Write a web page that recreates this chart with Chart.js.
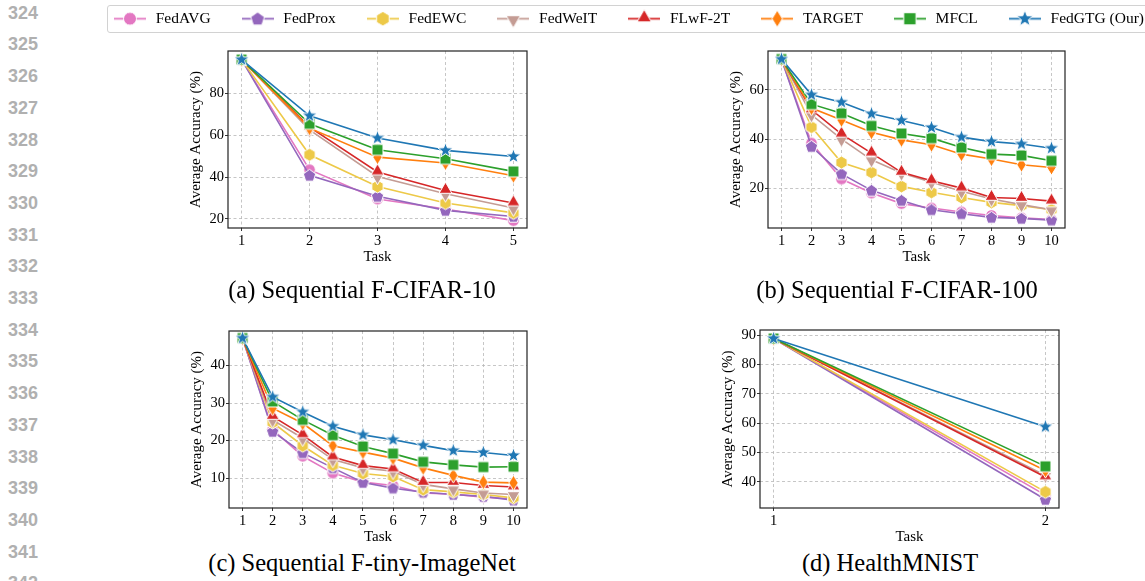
<!DOCTYPE html>
<html>
<head>
<meta charset="utf-8">
<title>Average accuracy per task</title>
<script src="https://cdn.jsdelivr.net/npm/chart.js@4.4.1/dist/chart.umd.min.js"></script>
<style>
  body { margin: 0; width: 1145px; height: 581px; overflow: hidden; background: #fff; position: relative; }
  canvas, .lineno, .caption, #legendFrame { position: absolute; }
  .lineno { left: 8px; font: bold 18px "Liberation Sans", Arial, sans-serif; color: #b0b0b0; line-height: 20px; }
  .caption { font: 24.5px "Liberation Serif", "Times New Roman", serif; color: #000; white-space: nowrap; line-height: 28px; transform: translateX(-50%); }
  #legendFrame { left: 107px; top: 5px; width: 1100px; height: 26px; border: 1px solid #d2d2d2; border-radius: 3px; }
</style>
</head>
<body>
<div id="legendFrame"></div>
<canvas id="legend"></canvas>
<canvas id="chartA"></canvas>
<canvas id="chartB"></canvas>
<canvas id="chartC"></canvas>
<canvas id="chartD"></canvas>
<div class="caption" style="left:362px; top:276px">(a) Sequential F-CIFAR-10</div>
<div class="caption" style="left:897px; top:276px">(b) Sequential F-CIFAR-100</div>
<div class="caption" style="left:362px; top:549px">(c) Sequential F-tiny-ImageNet</div>
<div class="caption" style="left:890px; top:549px">(d) HealthMNIST</div>

<script>
// methods, in legend order
const methods = ['FedAVG', 'FedProx', 'FedEWC', 'FedWeIT', 'FLwF-2T', 'TARGET', 'MFCL', 'FedGTG (Our)'];
const colors = ['#e377c2', '#9467bd', '#edc948', '#c49c94', '#d62728', '#ff7f0e', '#2ca02c', '#1f77b4'];
const shapes = ['circle', 'pentagon', 'hexagon', 'triDown', 'triUp', 'thinDiamond', 'square', 'star'];

// (a) Sequential F-CIFAR-10
const tasksA = [1, 2, 3, 4, 5];
const cifar10 = [
    [96, 43.5, 29.5, 24.8, 19.2],   // FedAVG
    [96, 40.8, 30.8, 24.1, 21.2],   // FedProx
    [96, 50.6, 35.5, 27.6, 22.9],   // FedEWC
    [96, 62.5, 40.3, 32.0, 25.2],   // FedWeIT
    [96, 63.8, 42.4, 33.6, 27.6],   // FLwF-2T
    [96, 63.3, 49.5, 46.7, 40.6],   // TARGET
    [96, 65.4, 53.0, 48.7, 42.7],   // MFCL
    [96, 69.2, 58.6, 52.7, 49.8]    // FedGTG
];
const yTicksA = [20, 40, 60, 80];

// (b) Sequential F-CIFAR-100
const tasksB = [1, 2, 3, 4, 5, 6, 7, 8, 9, 10];
const cifar100 = [
    [72.5, 38.4, 23.8, 18.1, 13.8, 12.0, 10.4, 9.0, 8.0, 7.3],
    [72.5, 37.0, 25.9, 19.2, 15.1, 11.3, 9.7, 8.2, 7.8, 7.1],
    [72.5, 44.9, 30.5, 26.5, 20.8, 18.4, 16.3, 14.3, 13.0, 11.3],
    [72.5, 49.9, 40.0, 31.6, 26.2, 22.5, 18.8, 15.7, 13.4, 11.3],
    [72.5, 51.9, 42.0, 34.3, 26.5, 23.1, 20.1, 16.3, 15.9, 14.8],
    [72.5, 52.6, 47.8, 42.8, 39.7, 37.7, 33.9, 31.9, 29.6, 28.5],
    [72.5, 54.2, 50.5, 45.4, 42.3, 40.4, 36.6, 33.9, 33.4, 31.2],
    [72.5, 58.0, 55.0, 50.3, 47.6, 44.7, 40.8, 39.0, 38.0, 36.3]
];
const yTicksB = [20, 40, 60];

// (c) Sequential F-tiny-ImageNet
const tasksC = [1, 2, 3, 4, 5, 6, 7, 8, 9, 10];
const tinyImageNet = [
    [47.3, 22.9, 15.8, 11.3, 8.9, 8.0, 6.0, 5.7, 4.9, 4.4],
    [47.3, 22.4, 16.7, 12.7, 8.8, 7.3, 6.2, 5.6, 5.1, 4.1],
    [47.3, 24.8, 18.6, 13.4, 11.2, 10.4, 6.9, 6.3, 5.6, 4.7],
    [47.3, 25.5, 20.6, 14.9, 12.7, 11.8, 8.3, 7.1, 6.0, 5.6],
    [47.3, 26.4, 21.5, 15.6, 13.3, 12.4, 8.8, 8.8, 8.0, 7.6],
    [47.3, 28.6, 24.6, 18.6, 16.9, 15.3, 12.7, 10.7, 8.9, 8.7],
    [47.3, 30.4, 25.5, 21.4, 18.4, 16.5, 14.3, 13.5, 12.9, 13.0],
    [47.3, 31.6, 27.6, 23.8, 21.5, 20.2, 18.7, 17.3, 16.8, 16.0]
];
const yTicksC = [10, 20, 30, 40];

// (d) HealthMNIST
const tasksD = [1, 2];
const healthMnist = [
    [88.9, 35.5],
    [88.9, 34.0],
    [88.9, 36.6],
    [88.9, 42.2],
    [88.9, 41.7],
    [88.9, 43.9],
    [88.9, 45.3],
    [88.9, 58.8]
];
const yTicksD = [40, 50, 60, 70, 80, 90];

// line numbers of the page margin
for (let n = 324; n <= 342; n++) {
    const d = document.createElement('div');
    d.className = 'lineno';
    d.textContent = n;
    d.style.top = (2.7 + 31.7 * (n - 324)) + 'px';
    document.body.appendChild(d);
}

Chart.defaults.font.family = '"Liberation Serif", "Times New Roman", serif';
Chart.defaults.color = '#000';

// matplotlib-like markers with a white edge
function polygon(g, x, y, n, r, start) {
    for (let k = 0; k < n; k++) {
        const a = start + k * 2 * Math.PI / n;
        if (k === 0) g.moveTo(x + r * Math.cos(a), y + r * Math.sin(a));
        else g.lineTo(x + r * Math.cos(a), y + r * Math.sin(a));
    }
}
function makeIcon(shape, color, s, lineLen) {
    const size = Math.ceil(20 * s);
    const c = document.createElement('canvas');
    c.width = lineLen || size;
    c.height = size;
    const g = c.getContext('2d');
    const x = c.width / 2, y = size / 2;
    if (lineLen) {
        g.strokeStyle = color;
        g.lineWidth = 1.8;
        g.beginPath(); g.moveTo(0, y); g.lineTo(c.width, y); g.stroke();
    }
    g.beginPath();
    if (shape === 'circle') g.arc(x, y, 5.2 * s, 0, 2 * Math.PI);
    else if (shape === 'pentagon') polygon(g, x, y + 0.4 * s, 5, 5.8 * s, -Math.PI / 2);
    else if (shape === 'hexagon') polygon(g, x, y, 6, 5.8 * s, -Math.PI / 2);
    else if (shape === 'triDown') polygon(g, x, y + 0.8 * s, 3, 6.6 * s, Math.PI / 2);
    else if (shape === 'triUp') polygon(g, x, y - 0.8 * s, 3, 6.6 * s, -Math.PI / 2);
    else if (shape === 'thinDiamond') {
        g.moveTo(x, y - 6.8 * s); g.lineTo(x + 4.2 * s, y); g.lineTo(x, y + 6.8 * s); g.lineTo(x - 4.2 * s, y);
    } else if (shape === 'square') g.rect(x - 4.9 * s, y - 4.9 * s, 9.8 * s, 9.8 * s);
    else if (shape === 'star') {
        for (let k = 0; k < 10; k++) {
            const r = (k % 2 ? 2.9 : 7.0) * s;
            const a = -Math.PI / 2 + k * Math.PI / 5;
            if (k === 0) g.moveTo(x + r * Math.cos(a), y + r * Math.sin(a));
            else g.lineTo(x + r * Math.cos(a), y + r * Math.sin(a));
        }
    }
    g.closePath();
    g.fillStyle = color;
    g.fill();
    g.strokeStyle = '#fff';
    g.lineWidth = 1;
    g.stroke();
    return c;
}

const pointIcons = shapes.map((sh, i) => makeIcon(sh, colors[i], 1.12));
const legendIcons = shapes.map((sh, i) => makeIcon(sh, colors[i], 1.25, 32));

// shared legend on top
const LP = 29;
const legendCanvas = document.getElementById('legend');
legendCanvas.width = 1150;
legendCanvas.height = 100;
legendCanvas.style.left = (112 - LP) + 'px';
legendCanvas.style.top = (19 - LP - 7.75) + 'px';
new Chart(legendCanvas, {
    type: 'line',
    data: { datasets: methods.map((m, i) => ({ label: m, data: [], borderColor: colors[i] })) },
    options: {
        responsive: false,
        animation: false,
        events: [],
        scales: { x: { display: false }, y: { display: false } },
        plugins: {
            tooltip: { enabled: false },
            legend: {
                align: 'start',
                labels: {
                    usePointStyle: true,
                    pointStyleWidth: 36,
                    padding: LP,
                    color: '#000',
                    font: { size: 15.5 },
                    generateLabels: () => methods.map((m, i) => ({
                        text: m, pointStyle: legendIcons[i], fillStyle: colors[i],
                        strokeStyle: colors[i], lineWidth: 0, hidden: false, datasetIndex: i
                    }))
                }
            }
        }
    }
});

// axes frame like matplotlib spines
const framePlugin = {
    id: 'frame',
    afterDatasetsDraw(chart) {
        const { ctx, chartArea: a } = chart;
        ctx.save();
        ctx.strokeStyle = '#222';
        ctx.lineWidth = 1.2;
        ctx.strokeRect(a.left, a.top, a.right - a.left, a.bottom - a.top);
        ctx.restore();
    }
};

const YW = 41, XH = 38, PT = 10, PR = 10;

function makeChart(id, box, tasks, values, xRange, yRange, yTicks) {
    const cv = document.getElementById(id);
    cv.width = YW + box.w + PR;
    cv.height = PT + box.h + XH;
    cv.style.left = (box.l - YW) + 'px';
    cv.style.top = (box.t - PT) + 'px';

    const grid = { color: '#b8b8b8', lineWidth: 0.8, tickLength: 3, tickColor: '#333', tickWidth: 1, tickBorderDash: [] };
    const border = { display: false, dash: [3, 2.5] };

    return new Chart(cv, {
        type: 'line',
        data: {
            datasets: methods.map((m, i) => ({
                label: m,
                data: values[i].map((v, k) => ({ x: tasks[k], y: v })),
                borderColor: colors[i],
                backgroundColor: colors[i],
                borderWidth: 1.6,
                pointStyle: pointIcons[i],
                pointRadius: 6,
                tension: 0,
                order: methods.length - i
            }))
        },
        options: {
            responsive: false,
            animation: false,
            events: [],
            layout: { padding: { top: PT, right: PR, left: 0, bottom: 0 } },
            plugins: { legend: { display: false }, tooltip: { enabled: false } },
            scales: {
                x: {
                    type: 'linear',
                    min: xRange[0], max: xRange[1],
                    afterBuildTicks: s => { s.ticks = tasks.map(v => ({ value: v })); },
                    afterFit: s => { s.height = XH; },
                    ticks: { font: { size: 14.5 }, color: '#000', padding: 1, maxRotation: 0, autoSkip: false },
                    grid: grid,
                    border: border,
                    title: { display: true, text: 'Task', font: { size: 15 }, color: '#000', padding: 0 }
                },
                y: {
                    type: 'linear',
                    min: yRange[0], max: yRange[1],
                    afterBuildTicks: s => { s.ticks = yTicks.map(v => ({ value: v })); },
                    afterFit: s => { s.width = YW; },
                    ticks: { font: { size: 14.5 }, color: '#000', padding: 1 },
                    grid: grid,
                    border: border,
                    title: { display: true, text: 'Average Accuracy (%)', font: { size: 15 }, color: '#000', padding: 0 }
                }
            }
        },
        plugins: [framePlugin]
    });
}

makeChart('chartA', { l: 228, t: 51, w: 299, h: 177 }, tasksA, cifar10, [0.8, 5.2], [15.7, 100.1], yTicksA);
makeChart('chartB', { l: 768, t: 51, w: 297, h: 177 }, tasksB, cifar100, [0.55, 10.45], [3.9, 75.8], yTicksB);
makeChart('chartC', { l: 229, t: 331, w: 298, h: 177 }, tasksC, tinyImageNet, [0.55, 10.45], [2.0, 49.2], yTicksC);
makeChart('chartD', { l: 760, t: 330, w: 299, h: 178 }, tasksD, healthMnist, [0.95, 2.05], [31.1, 91.8], yTicksD);
</script>
</body>
</html>
